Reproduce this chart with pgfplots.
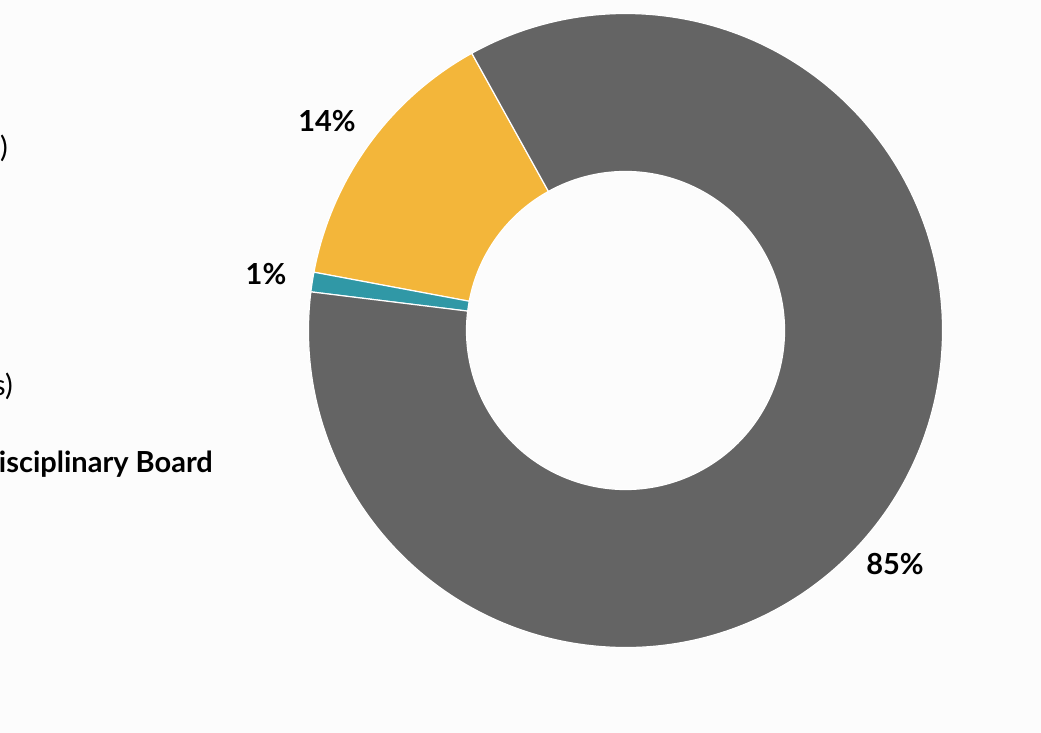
\documentclass[border=0pt]{standalone}
\usepackage{pgfplots}
\pgfplotsset{compat=1.18}
\usepackage{pgfplotstable}
\usepackage{fontspec}
\setmainfont{Lato}
\definecolor{piegray}{RGB}{100,100,100}
\definecolor{pieyellow}{RGB}{243,182,58}
\definecolor{pieteal}{RGB}{48,152,166}
\definecolor{bg}{RGB}{252,252,252}

% share of cases, counterclockwise from 119 degrees
\pgfplotstableread{
share color
14 pieyellow
1 pieteal
85 piegray
}\piedata

\begin{document}
\begin{tikzpicture}
\begin{axis}[
    scale only axis, width=1041pt, height=733pt,
    xmin=0, xmax=1041, ymin=0, ymax=733,
    hide axis, clip=false]
  \fill[bg] (axis cs:0,0) rectangle (axis cs:1041,733);
  \def\pieangle{119}
  \pgfplotsforeachungrouped \i in {0,...,2}{%
    \pgfplotstablegetelem{\i}{share}\of\piedata \let\pieval\pgfplotsretval
    \pgfplotstablegetelem{\i}{color}\of\piedata \let\piecol\pgfplotsretval
    \pgfmathsetmacro\pieend{\pieangle+3.6*\pieval}
    \edef\pieslice{\noexpand\filldraw[fill=\piecol,draw=white,line width=1.2pt,line join=round]
      (axis cs:625.5,402.5) ++(\pieangle:317pt)
      arc[start angle=\pieangle,end angle=\pieend,radius=317pt]
      -- ++(\pieend:-158pt)
      arc[start angle=\pieend,end angle=\pieangle,radius=159pt] -- cycle;}
    \pieslice
    \let\pieangle\pieend
  }
  \begin{scope}[font=\fontsize{29}{34}\selectfont\bfseries]
    \node at (axis cs:327,612) {14\%};
    \node at (axis cs:266,459) {1\%};
    \node at (axis cs:895,169) {85\%};
    \node[anchor=base east, inner sep=0pt] at (axis cs:213,260) {Disciplinary Board};
  \end{scope}
  \begin{scope}[font=\fontsize{29}{34}\selectfont]
    \node[anchor=base east, inner sep=0pt] at (axis cs:8,575) {Dismissed (85\%)};
    \node[anchor=base east, inner sep=0pt] at (axis cs:13,337) {(14 Cases)};
  \end{scope}
\end{axis}
\pgfresetboundingbox
\path (current axis.south west) rectangle (current axis.north east);
\end{tikzpicture}
\end{document}
